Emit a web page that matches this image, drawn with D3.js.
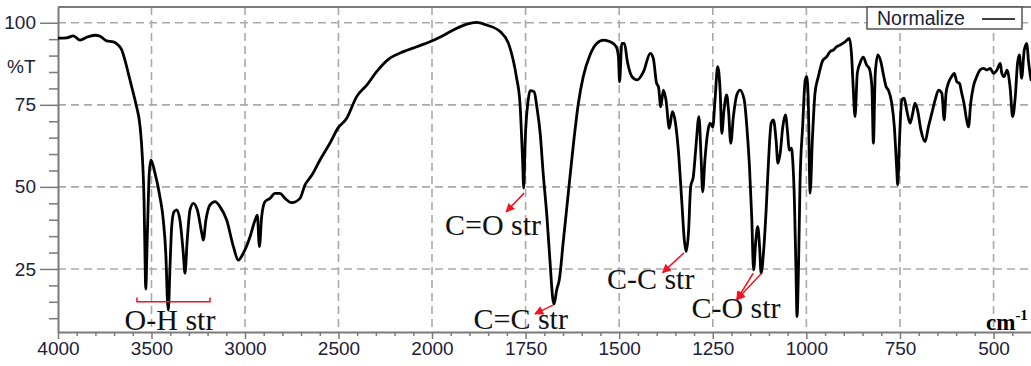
<!DOCTYPE html>
<html>
<head>
<meta charset="utf-8">
<script src="https://cdn.jsdelivr.net/npm/d3@7"></script>
<style>
  html, body { margin: 0; padding: 0; background: #fff; }
  svg { display: block; }
</style>
</head>
<body>
<svg id="chart" width="1031" height="366"></svg>
<script>
// IR spectrum: wavenumber (cm-1) and transmittance (%T)
const wavenumbers = [
  4000, 3953, 3918, 3882, 3846, 3802, 3775, 3740, 3704, 3678, 3659, 3642, 3624, 3606, 3583, 3561,
  3549, 3540, 3535, 3531, 3522, 3512, 3503, 3481, 3455, 3437, 3422, 3415, 3410, 3401, 3392, 3380,
  3365, 3348, 3330, 3321, 3309, 3294, 3276, 3255, 3231, 3223, 3209, 3187, 3160, 3134, 3098, 3062,
  3036, 3009, 2973, 2946, 2934, 2923, 2911, 2893, 2866, 2840, 2813, 2786, 2750, 2706, 2679, 2642,
  2599, 2545, 2503, 2456, 2403, 2349, 2296, 2225, 2153, 2082, 2011, 1979, 1943, 1907, 1881, 1854,
  1818, 1796, 1783, 1774, 1765, 1761, 1758, 1755, 1751, 1743, 1738, 1727, 1720, 1711, 1703, 1693,
  1685, 1677, 1674, 1667, 1660, 1649, 1636, 1622, 1609, 1596, 1578, 1560, 1542, 1524, 1508, 1502,
  1499, 1493, 1486, 1478, 1466, 1452, 1435, 1417, 1409, 1400, 1395, 1389, 1382, 1375, 1366, 1358,
  1351, 1342, 1333, 1326, 1321, 1315, 1309, 1302, 1295, 1287, 1281, 1277, 1271, 1264, 1257, 1250,
  1244, 1237, 1230, 1226, 1220, 1213, 1208, 1202, 1195, 1186, 1177, 1166, 1159, 1152, 1146, 1141,
  1135, 1130, 1125, 1121, 1114, 1107, 1101, 1094, 1088, 1081, 1076, 1070, 1063, 1056, 1050, 1046,
  1040, 1036, 1032, 1028, 1025, 1021, 1017, 1010, 1003, 999, 995, 990, 984, 977, 968, 956,
  946, 937, 928, 919, 910, 897, 885, 879, 875, 870, 864, 857, 848, 839, 832, 825,
  821, 816, 809, 801, 794, 787, 781, 772, 765, 759, 756, 752, 745, 739, 732, 723,
  716, 710, 703, 694, 683, 674, 665, 656, 647, 638, 632, 627, 621, 612, 605, 598,
  591, 585, 579, 572, 567, 561, 554, 545, 536, 527, 518, 509, 500, 491, 482, 478,
  472, 464, 456, 449, 442, 436, 431, 425, 418, 411, 407, 400
];
const transmittance = [
  95.3, 95.4, 96.0, 94.7, 95.6, 96.2, 95.9, 94.5, 94.2, 93.2, 91.7, 88.6, 84.6, 80.5, 75.2, 68.3,
  59.2, 46.0, 29.9, 18.9, 36.0, 54.1, 58.2, 54.1, 47.0, 39.9, 27.7, 15.6, 12.5, 25.7, 37.9, 42.4,
  43.0, 39.9, 29.8, 23.7, 33.8, 43.0, 45.0, 43.0, 35.9, 33.8, 39.9, 44.5, 45.5, 44.0, 39.9, 31.8,
  27.7, 29.8, 34.8, 39.9, 41.4, 31.8, 40.9, 45.5, 46.5, 48.0, 48.0, 46.5, 45.2, 46.5, 50.6, 53.6,
  58.2, 63.4, 67.9, 70.9, 77.5, 81.0, 85.1, 89.2, 91.2, 92.7, 94.2, 95.6, 97.8, 99.6, 100.1, 99.3,
  97.3, 93.8, 88.6, 83.2, 75.5, 66.3, 58.2, 49.6, 64.3, 76.5, 79.3, 79.0, 74.4, 66.3, 54.1, 40.9,
  27.7, 15.6, 14.3, 18.6, 21.7, 33.8, 48.0, 63.3, 75.5, 83.6, 90.2, 93.7, 94.7, 94.2, 92.7, 89.6,
  82.0, 93.7, 93.7, 88.1, 83.6, 82.6, 85.1, 90.7, 89.2, 81.5, 80.5, 74.4, 79.5, 76.5, 67.8, 72.9,
  70.4, 61.2, 46.0, 33.8, 30.3, 35.9, 50.1, 53.1, 62.2, 71.4, 58.2, 48.5, 58.2, 66.3, 69.4, 68.3,
  76.5, 86.6, 78.5, 66.3, 73.4, 78.0, 73.4, 63.3, 71.4, 78.0, 79.5, 76.5, 68.3, 56.2, 40.9, 24.7,
  33.8, 37.9, 31.8, 23.7, 30.8, 44.0, 58.2, 69.4, 70.4, 64.3, 57.2, 60.2, 68.3, 71.9, 66.3, 61.2,
  61.8, 57.2, 46.0, 25.7, 10.5, 25.7, 51.1, 68.3, 82.6, 83.6, 76.5, 48.1, 64.3, 78.5, 83.6, 88.6,
  89.6, 91.2, 91.7, 92.7, 93.2, 94.2, 95.2, 89.6, 80.5, 71.4, 84.6, 87.6, 89.5, 87.1, 86.1, 80.5,
  63.3, 84.6, 90.2, 88.1, 84.1, 80.5, 79.5, 75.5, 68.3, 56.2, 50.6, 62.2, 76.5, 77.0, 73.4, 69.4,
  72.4, 75.5, 73.4, 67.3, 63.8, 68.3, 72.4, 76.5, 79.5, 78.5, 70.4, 78.5, 81.5, 83.6, 84.6, 82.0,
  81.5, 78.5, 75.5, 70.4, 68.3, 75.5, 80.5, 83.6, 85.6, 86.1, 85.6, 86.1, 84.6, 85.6, 87.6, 84.6,
  83.6, 85.6, 80.5, 71.4, 77.5, 87.6, 90.2, 83.1, 91.7, 93.7, 88.6, 82.6
];

// Axis ticks
const xMajorTicks = [4000, 3500, 3000, 2500, 2000, 1750, 1500, 1250, 1000, 750, 500];
const xTickLabels = ["4000", "3500", "3000", "2500", "2000", "1750", "1500", "1250", "1000", "750", "500"];
const yMajorTicks = [25, 50, 75, 100];
const yTickLabels = ["25", "50", "75", "100"];

// Band assignments: label, label anchor (cm-1, %T), arrow tails and arrow tip
const bandLabels = ["O-H str", "C=O str", "C=C str", "C-C str", "C-O str"];
const bandLabelWn = [3401, 1837, 1763, 1416, 1188];
const bandLabelT = [6.4, 35.4, 6.6, 18.8, 10.0];
const arrowFromWn = [[], [1754], [1677], [1327], [1142, 1119]];
const arrowFromT = [[], [48.1], [14.0], [29.9], [23.7, 23.8]];
const arrowToWn = [null, 1802, 1725, 1384, 1186];
const arrowToT = [null, 42.4, 11.3, 23.9, 15.6];
// O-H range bracket
const bracketWn = [3578, 3187];
const bracketT = 15.0;
const bracketTopT = 16.3;

const legendLabel = "Normalize";

const textColor = "#1c2038";
const axisColor = "#7a7a7a";
const gridColor = "#a9a9a9";
const red = "#f0141e";

const svg = d3.select("#chart");
const plotLeft = 58, plotRight = 1031, plotTop = 7, plotBottom = 332;

// Wavenumber axis doubles its scale below 2000 cm-1
const x = d3.scaleLinear().domain([4000, 2000, 400]).range([plotLeft, 432, plotRight]);
const y = d3.scaleLinear().domain([5.8, 104.8]).range([plotBottom, plotTop]);

// Grid
const grid = svg.append("g");
grid.selectAll("line.vg").data(xMajorTicks.filter(d => d !== 4000)).join("line")
  .attr("x1", d => x(d)).attr("x2", d => x(d))
  .attr("y1", plotTop).attr("y2", plotBottom)
  .attr("stroke", gridColor).attr("stroke-width", 1.6).attr("stroke-dasharray", "8,5");
grid.selectAll("line.hg").data(yMajorTicks).join("line")
  .attr("x1", plotLeft).attr("x2", plotRight)
  .attr("y1", d => y(d)).attr("y2", d => y(d))
  .attr("stroke", gridColor).attr("stroke-width", 1.6).attr("stroke-dasharray", "8,5");

// Top frame line
svg.append("line").attr("x1", plotLeft).attr("x2", plotRight).attr("y1", plotTop).attr("y2", plotTop)
  .attr("stroke", axisColor).attr("stroke-width", 2);

// X axis: minor ticks every 100 above 2000, every 50 below
const xMinor = d3.range(4000, 2000, -100).concat(d3.range(2000, 400, -50))
  .filter(d => !xMajorTicks.includes(d));
svg.append("g").attr("transform", `translate(0,${plotBottom})`)
  .call(d3.axisBottom(x).tickValues(xMinor).tickSize(4).tickSizeOuter(0).tickFormat(""))
  .call(g => g.select(".domain").remove())
  .call(g => g.selectAll("line").attr("stroke", axisColor).attr("stroke-width", 1.5));
const xAxis = svg.append("g").attr("transform", `translate(0,${plotBottom})`)
  .call(d3.axisBottom(x).tickValues(xMajorTicks).tickSize(7).tickSizeOuter(0)
    .tickFormat((d, i) => xTickLabels[i]));
xAxis.select(".domain").attr("stroke", axisColor).attr("stroke-width", 2);
xAxis.selectAll("line").attr("stroke", axisColor).attr("stroke-width", 1.5);
xAxis.selectAll("text").attr("y", 0).attr("dy", 0).attr("transform", "translate(0,23)")
  .attr("fill", textColor).style("font-family", "'Liberation Sans', Arial, sans-serif").style("font-size", "19px");

// Y axis: minor ticks every 5 %T
const yMinor = d3.range(10, 101, 5).filter(d => !yMajorTicks.includes(d));
svg.append("g").attr("transform", `translate(${plotLeft},0)`)
  .call(d3.axisLeft(y).tickValues(yMinor).tickSize(9).tickSizeOuter(0).tickFormat(""))
  .call(g => g.select(".domain").remove())
  .call(g => g.selectAll("line").attr("stroke", axisColor).attr("stroke-width", 1.5));
const yAxis = svg.append("g").attr("transform", `translate(${plotLeft},0)`)
  .call(d3.axisLeft(y).tickValues(yMajorTicks).tickSize(18).tickPadding(4).tickSizeOuter(0)
    .tickFormat((d, i) => yTickLabels[i]));
yAxis.select(".domain").attr("stroke", axisColor).attr("stroke-width", 2);
yAxis.selectAll("line").attr("stroke", axisColor).attr("stroke-width", 1.5);
yAxis.selectAll("text").attr("fill", textColor)
  .style("font-family", "'Liberation Sans', Arial, sans-serif").style("font-size", "19px");

svg.append("text").attr("x", 7).attr("y", 73).text("%T")
  .attr("fill", textColor).style("font-family", "'Liberation Sans', Arial, sans-serif").style("font-size", "19px");

// Spectrum trace
const points = wavenumbers.map((w, i) => [w, transmittance[i]]);
const defs = svg.append("defs");
defs.append("clipPath").attr("id", "plotclip")
  .append("rect").attr("x", plotLeft).attr("y", plotTop)
  .attr("width", plotRight - plotLeft).attr("height", plotBottom - plotTop);
svg.append("path").datum(points)
  .attr("clip-path", "url(#plotclip)")
  .attr("d", d3.line().x(d => x(d[0])).y(d => y(d[1])).curve(d3.curveMonotoneX))
  .attr("fill", "none").attr("stroke", "#000").attr("stroke-width", 2.8)
  .attr("stroke-linejoin", "round").attr("stroke-linecap", "round");

// Legend
const legend = svg.append("g");
legend.append("rect").attr("x", 867).attr("y", 7).attr("width", 155).attr("height", 22)
  .attr("fill", "#fff").attr("stroke", "#555").attr("stroke-width", 1.5);
legend.append("text").attr("x", 877).attr("y", 25).text(legendLabel)
  .attr("fill", textColor).style("font-family", "'Liberation Sans', Arial, sans-serif").style("font-size", "19.5px");
legend.append("line").attr("x1", 982).attr("x2", 1015).attr("y1", 19).attr("y2", 19)
  .attr("stroke", "#000").attr("stroke-width", 1.5);

// Unit label
const unit = svg.append("text").attr("x", 986).attr("y", 330)
  .attr("fill", "#000").style("font-family", "'Liberation Serif', 'Times New Roman', serif")
  .style("font-weight", "bold").style("font-size", "23px");
unit.append("tspan").text("cm");
unit.append("tspan").attr("dy", -10).style("font-size", "15px").text("-1");

// Band annotations
defs.append("marker").attr("id", "arrowhead")
  .attr("viewBox", "0 0 10 10").attr("refX", 9).attr("refY", 5)
  .attr("markerWidth", 12).attr("markerHeight", 9).attr("markerUnits", "userSpaceOnUse")
  .attr("orient", "auto")
  .append("path").attr("d", "M0,0 L10,5 L0,10 Z").attr("fill", red);

const ann = svg.append("g");
bandLabels.forEach((label, i) => {
  ann.append("text").attr("x", x(bandLabelWn[i])).attr("y", y(bandLabelT[i]))
    .attr("text-anchor", "middle").text(label).attr("fill", "#111")
    .style("font-family", "'Liberation Serif', 'Times New Roman', serif").style("font-size", "30px");
  arrowFromWn[i].forEach((w, j) => {
    ann.append("line")
      .attr("x1", x(w)).attr("y1", y(arrowFromT[i][j]))
      .attr("x2", x(arrowToWn[i])).attr("y2", y(arrowToT[i]))
      .attr("stroke", red).attr("stroke-width", 1.5).attr("marker-end", "url(#arrowhead)");
  });
});

const bx0 = x(bracketWn[0]), bx1 = x(bracketWn[1]);
ann.append("path")
  .attr("d", `M${bx0},${y(bracketTopT)} L${bx0},${y(bracketT)} L${bx1},${y(bracketT)} L${bx1},${y(bracketTopT)}`)
  .attr("fill", "none").attr("stroke", red).attr("stroke-width", 1.5);
</script>
</body>
</html>
